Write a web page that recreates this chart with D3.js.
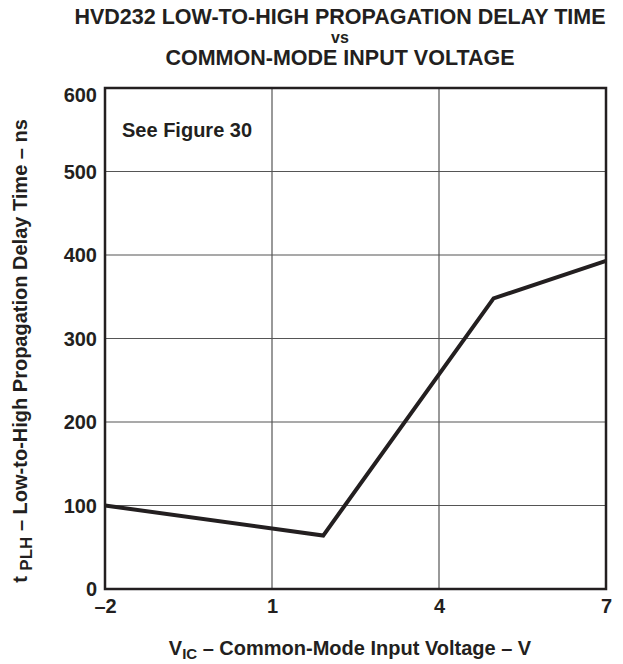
<!DOCTYPE html>
<html><head><meta charset="utf-8">
<script src="https://cdn.jsdelivr.net/npm/d3@7"></script>
<style>body{margin:0;background:#fff}svg{display:block}text{font-family:"Liberation Sans",Arial,sans-serif;font-weight:bold;fill:#231f20}</style>
</head><body><svg id="c" width="623" height="664"></svg>
<script>
const xVals = [-2, 1.92, 4.98, 7];
const yVals = [100, 64, 348, 393];
const xTicks = [-2, 1, 4, 7];
const yTicks = [0, 100, 200, 300, 400, 500, 600];
const titleLines = ["HVD232 LOW-TO-HIGH PROPAGATION DELAY TIME", "vs", "COMMON-MODE INPUT VOLTAGE"];

const svg = d3.select("#c");
const L = 105, R = 606, T = 88, B = 589;
const x = d3.scaleLinear().domain([-2, 7]).range([L, R]);
const y = d3.scaleLinear().domain([0, 600]).range([B, T]);
const FS = 20;

// title
svg.append("g").selectAll("text").data(titleLines).join("text")
  .attr("x", 340).attr("y", (d, i) => [24, 43, 65][i])
  .attr("text-anchor", "middle").attr("font-size", (d, i) => i === 1 ? 16 : 21.5).text(d => d);

// grid
svg.append("g").selectAll("line").data(yTicks.slice(1, -1)).join("line")
  .attr("x1", L).attr("x2", R).attr("y1", d => y(d)).attr("y2", d => y(d))
  .attr("stroke", "#555").attr("stroke-width", 1.2);
svg.append("g").selectAll("line").data(xTicks.slice(1, -1)).join("line")
  .attr("y1", T).attr("y2", B).attr("x1", d => x(d)).attr("x2", d => x(d))
  .attr("stroke", "#555").attr("stroke-width", 1.2);

// axes (labels)
const yAxis = svg.append("g").attr("transform", `translate(${L},0)`)
  .call(d3.axisLeft(y).tickValues(yTicks).tickSize(0).tickPadding(8));
yAxis.select(".domain").remove();
yAxis.selectAll("text").attr("font-size", FS).attr("font-family", "Liberation Sans, Arial, sans-serif")
  .attr("font-weight", "bold").attr("fill", "#231f20")
  .attr("dy", d => d === 600 ? "0.68em" : "0.34em");
const xAxis = svg.append("g").attr("transform", `translate(0,${B})`)
  .call(d3.axisBottom(x).tickValues(xTicks).tickSize(0).tickPadding(10).tickFormat(d => d < 0 ? "\u2013" + Math.abs(d) : d));
xAxis.select(".domain").remove();
xAxis.selectAll("text").attr("font-size", FS).attr("font-family", "Liberation Sans, Arial, sans-serif")
  .attr("font-weight", "bold").attr("fill", "#231f20");

// frame
svg.append("rect").attr("x", L).attr("y", T).attr("width", R - L).attr("height", B - T)
  .attr("fill", "none").attr("stroke", "#231f20").attr("stroke-width", 2.5);

// data line
const pts = xVals.map((v, i) => [v, yVals[i]]);
svg.append("path").datum(pts)
  .attr("d", d3.line().x(d => x(d[0])).y(d => y(d[1])))
  .attr("fill", "none").attr("stroke", "#231f20").attr("stroke-width", 4).attr("stroke-linejoin", "miter");

// annotation
svg.append("text").attr("x", 122).attr("y", 137).attr("font-size", FS).text("See Figure 30");

// x label
const xl = svg.append("text").attr("x", 350).attr("y", 655).attr("text-anchor", "middle").attr("font-size", FS);
xl.append("tspan").text("V");
xl.append("tspan").attr("font-size", 15).attr("dy", 4).text("IC");
xl.append("tspan").attr("dy", -4).text(" \u2013 Common-Mode Input Voltage \u2013 V");

// y label
const yl = svg.append("text").attr("transform", "translate(27,351) rotate(-90)").attr("text-anchor", "middle").attr("font-size", FS);
yl.append("tspan").text("t ");
yl.append("tspan").attr("font-size", 17).attr("dy", 5).text("PLH");
yl.append("tspan").attr("dy", -5).text(" \u2013 Low-to-High Propagation Delay Time \u2013 ns");
</script></body></html>
